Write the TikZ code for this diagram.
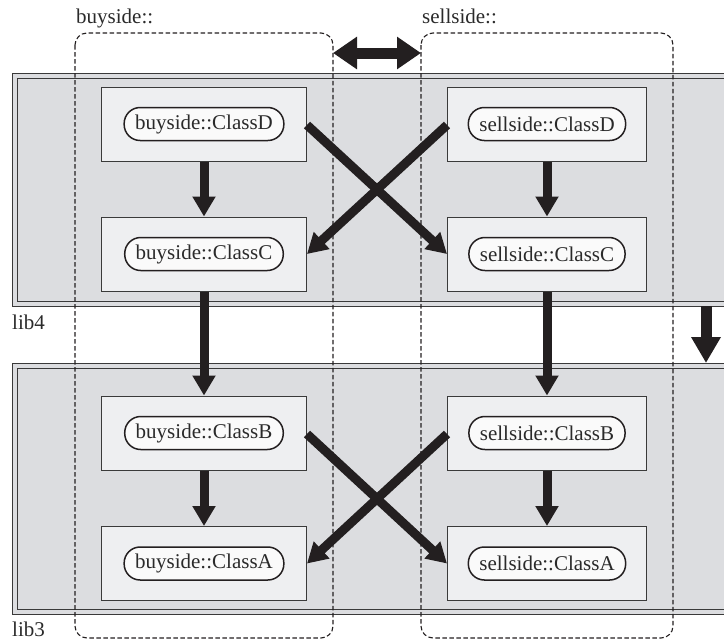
\documentclass[tikz,border=0pt]{standalone}
\usepackage{fontspec}
\setmainfont{Liberation Serif}
\usetikzlibrary{arrows.meta}
\definecolor{ink}{HTML}{231F20}
\definecolor{edge}{HTML}{3A3A3A}
\definecolor{libfill}{HTML}{DCDDE0}
\definecolor{boxfill}{HTML}{EEEFF1}
\definecolor{pillfill}{HTML}{FAFAFA}
\definecolor{txt}{HTML}{2A2A2A}
\tikzset{
  libouter/.style={draw=edge, line width=1pt, fill=libfill},
  libinner/.style={draw=edge, line width=1pt},
  nsbox/.style={draw=ink, line width=1.1pt, dash pattern=on 4.5pt off 2.5pt, rounded corners=12pt},
  classbox/.style={draw=edge, line width=1pt, fill=boxfill, minimum height=74pt, inner sep=0pt},
  pill/.style={draw=ink, line width=1.5pt, fill=pillfill, rounded corners=16pt, minimum height=33pt, inner xsep=11pt, inner ysep=0pt, text=txt, font=\fontsize{21}{25}\selectfont},
  lbl/.style={text=txt, font=\fontsize{21}{25}\selectfont, inner sep=0pt, anchor=base west},
  dep/.style={draw=ink, line width=9pt, -{Triangle[length=20pt,width=22pt]}},
  big/.style={draw=ink, line width=11pt},
}
\begin{document}
\begin{tikzpicture}[x=1pt,y=-1pt]
\useasboundingbox (0,0) rectangle (724,641);
% library bands
\begin{scope}
\clip (0,0) rectangle (724,641);
\path[libouter] (12,73) rectangle (760,306);
\path[libinner] (17,78) rectangle (760,301);
\path[libouter] (12,363) rectangle (760,614);
\path[libinner] (17,368) rectangle (760,609);
\end{scope}
\node[lbl] (lib4) at (12,329) {lib4};
\node[lbl] (lib3) at (12,636) {lib3};
% namespace boxes
\draw[nsbox] (75,33) rectangle (333,638);
\draw[nsbox] (421,33) rectangle (673,638);
\node[lbl] (nsb) at (76,23) {buyside::};
\node[lbl] (nss) at (422,23) {sellside::};
\coordinate (nsbR) at (333,53);
\coordinate (nssL) at (421,53);
% class boxes
\node[classbox, minimum width=205pt] (bD) at (204,124) {};
\node[classbox, minimum width=205pt] (bC) at (204,254) {};
\node[classbox, minimum width=205pt] (bB) at (204,433) {};
\node[classbox, minimum width=205pt] (bA) at (204,563.5) {};
\node[classbox, minimum width=199pt] (sD) at (547,124) {};
\node[classbox, minimum width=199pt] (sC) at (547,254) {};
\node[classbox, minimum width=199pt] (sB) at (547,433) {};
\node[classbox, minimum width=199pt] (sA) at (547,563.5) {};
\node[pill] (pbD) at (bD) {buyside::ClassD};
\node[pill] (pbC) at (bC) {buyside::ClassC};
\node[pill] (pbB) at (bB) {buyside::ClassB};
\node[pill] (pbA) at (bA) {buyside::ClassA};
\node[pill] (psD) at (sD) {sellside::ClassD};
\node[pill] (psC) at (sC) {sellside::ClassC};
\node[pill] (psB) at (sB) {sellside::ClassB};
\node[pill] (psA) at (sA) {sellside::ClassA};
% dependencies
\draw[dep] (bD.south) -- (bC.north);
\draw[dep] (sD.south) -- (sC.north);
\draw[dep] (bB.south) -- (bA.north);
\draw[dep] (sB.south) -- (sA.north);
\draw[dep] (bC.south) -- (bB.north);
\draw[dep] (sC.south) -- (sB.north);
\draw[dep] ([yshift=-1pt]bD.east) -- (sC.west);
\draw[dep] ([yshift=-1pt]sD.west) -- (bC.east);
\draw[dep] ([yshift=-1pt]bB.east) -- (sA.west);
\draw[dep] ([yshift=-1pt]sB.west) -- (bA.east);
% lib dependency and namespace relation
\coordinate (l4b) at (706,306);
\coordinate (l3t) at (706,363);
\draw[big, -{Triangle[length=26pt,width=28pt]}] (l4b) -- (l3t);
\draw[big, {Triangle[length=24pt,width=31pt]}-{Triangle[length=24pt,width=31pt]}] (nsbR) -- (nssL);
\end{tikzpicture}
\end{document}
